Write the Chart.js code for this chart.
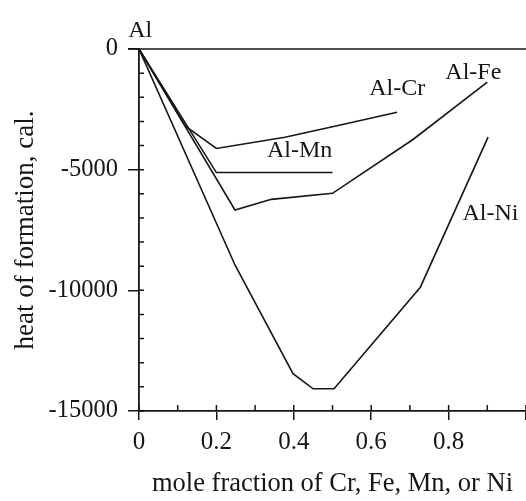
<!DOCTYPE html>
<html>
<head>
<meta charset="utf-8">
<script src="https://cdn.jsdelivr.net/npm/chart.js@4/dist/chart.umd.min.js"></script>
<style>
  body { margin: 0; background: #fff; }
  #wrap { width: 526px; height: 501px; position: relative; }
</style>
</head>
<body>
<div id="wrap"><canvas id="chart"></canvas></div>
<script>
// heat of formation vs mole fraction
const alCrX = [0, 0.12, 0.2, 0.377, 0.5, 0.667];
const alCrY = [0, -3200, -4120, -3660, -3220, -2620];

const alMnX = [0, 0.2, 0.5];
const alMnY = [0, -5120, -5120];

const alFeX = [0, 0.248, 0.342, 0.5, 0.708, 0.9];
const alFeY = [0, -6670, -6230, -5980, -3750, -1370];

const alNiX = [0, 0.248, 0.398, 0.45, 0.504, 0.727, 0.902];
const alNiY = [0, -8950, -13450, -14080, -14080, -9870, -3650];

const xTicks = [0, 0.2, 0.4, 0.6, 0.8];
const yTicks = [0, -5000, -10000, -15000];

// curve labels, placed in data units
const labelText = ['Al', 'Al-Cr', 'Al-Fe', 'Al-Mn', 'Al-Ni'];
const labelX = [0.003, 0.667, 0.864, 0.415, 0.908];
const labelY = [750, -1660, -980, -4230, -6830];

const ink = '#161616';
const serif = "'Liberation Serif', 'Times New Roman', serif";
Chart.defaults.font.family = serif;
Chart.defaults.color = ink;

const pts = (xs, ys) => xs.map((x, i) => ({ x: x, y: ys[i] }));

const lineSet = (name, xs, ys) => ({
  label: name,
  data: pts(xs, ys),
  borderColor: ink,
  borderWidth: 1.6,
  pointRadius: 0,
  fill: false,
  tension: 0,
});

// inner ticks, minor ticks, top line and the curve labels
const extras = {
  id: 'extras',
  afterDraw(chart) {
    const { ctx, chartArea: a, scales: { x, y } } = chart;
    ctx.save();
    ctx.strokeStyle = ink;
    ctx.lineWidth = 1.5;
    ctx.beginPath();
    const y0 = y.getPixelForValue(0);
    ctx.moveTo(a.left - 11, y0);
    ctx.lineTo(a.right, y0);
    for (let v = 0; v >= -15000; v -= 1000) {
      const py = y.getPixelForValue(v);
      ctx.moveTo(a.left, py);
      ctx.lineTo(a.left + 5, py);
    }
    for (let i = 0; i <= 10; i++) {
      const px = x.getPixelForValue(i / 10);
      ctx.moveTo(px, a.bottom);
      ctx.lineTo(px, a.bottom - 6);
    }
    ctx.stroke();

    ctx.fillStyle = ink;
    ctx.font = '24px ' + serif;
    ctx.textAlign = 'center';
    ctx.textBaseline = 'middle';
    labelText.forEach((t, i) => {
      ctx.fillText(t, x.getPixelForValue(labelX[i]), y.getPixelForValue(labelY[i]));
    });
    ctx.restore();
  }
};

new Chart(document.getElementById('chart').getContext('2d'), {
  type: 'line',
  data: {
    datasets: [
      lineSet('Al-Cr', alCrX, alCrY),
      lineSet('Al-Mn', alMnX, alMnY),
      lineSet('Al-Fe', alFeX, alFeY),
      lineSet('Al-Ni', alNiX, alNiY),
    ],
  },
  options: {
    responsive: true,
    maintainAspectRatio: false,
    animation: false,
    layout: { padding: { top: 49, right: 0, bottom: 0, left: 0 } },
    plugins: { legend: { display: false }, tooltip: { enabled: false } },
    scales: {
      x: {
        type: 'linear',
        min: 0,
        max: 1,
        afterBuildTicks: (s) => { s.ticks = xTicks.concat([1]).map(v => ({ value: v })); },
        afterFit: (s) => { s.height = 90; s.paddingLeft = 0; s.paddingRight = 0; },
        ticks: {
          font: { size: 25 },
          padding: 7,
          maxRotation: 0,
          callback: (v) => (v === 1 ? '' : String(v)),
        },
        grid: { drawOnChartArea: false, drawTicks: true, tickLength: 9, color: ink, lineWidth: 1.5 },
        border: { color: ink, width: 1.8 },
        title: {
          display: true,
          text: 'mole fraction of Cr, Fe, Mn, or Ni',
          font: { size: 26.5 },
          padding: { top: 0, bottom: 1 },
        },
      },
      y: {
        type: 'linear',
        min: -15000,
        max: 0,
        afterBuildTicks: (s) => { s.ticks = yTicks.map(v => ({ value: v })); },
        afterFit: (s) => { s.width = 139; },
        ticks: { font: { size: 24.5 }, padding: 10, callback: (v) => String(v) },
        grid: { drawOnChartArea: false, drawTicks: true, tickLength: 11, color: ink, lineWidth: 1.5 },
        border: { color: ink, width: 1.8 },
        title: {
          display: true,
          text: 'heat of formation, cal.',
          font: { size: 27 },
          padding: { top: 10, bottom: 0 },
        },
      },
    },
  },
  plugins: [extras],
});
</script>
</body>
</html>
